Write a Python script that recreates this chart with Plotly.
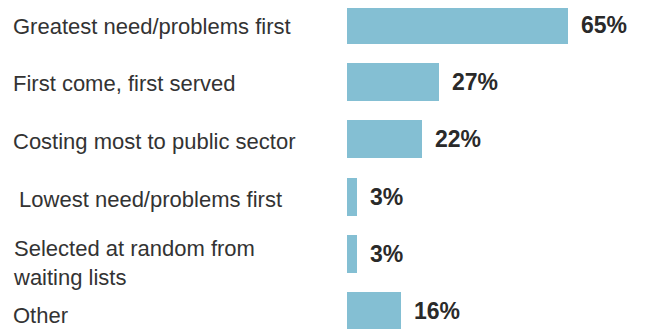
import plotly.graph_objects as go

categories = [
    "Greatest need/problems first",
    "First come, first served",
    "Costing most to public sector",
    " Lowest need/problems first",
    "Selected at random from<br>waiting lists",
    "Other",
]
values = [65, 27, 22, 3, 3, 16]

# the page has an 8px body margin, so the figure is drawn 8px smaller
OFF = 8
W, H = 645 - OFF, 329 - OFF
BAR_COLOR = "#84bfd3"
FONT = "Liberation Sans, Arial, sans-serif"
PX_PER_PCT = 3.4
ROW = 57.2
X0 = 347 - OFF

fig = go.Figure()
fig.add_trace(go.Bar(
    x=values,
    y=list(range(len(values))),
    orientation="h",
    width=0.665,
    marker=dict(color=BAR_COLOR, line=dict(width=0)),
    hoverinfo="skip",
    showlegend=False,
))

# value labels to the right of each bar
for i, v in enumerate(values):
    fig.add_annotation(
        x=v, y=i, xref="x", yref="y",
        text=f"<b>{v}%</b>", showarrow=False,
        xanchor="left", yanchor="middle", xshift=11, yshift=0,
        font=dict(family=FONT, size=23, color="#2a2a2a"),
    )

# category labels, left-aligned at the page edge (they drift a bit lower than the bars)
for i, c in enumerate(categories):
    shift = -1 - 0.7 * i
    if "<br>" in c:
        shift -= 5
    fig.add_annotation(
        x=(11 - OFF) / W, y=i, xref="paper", yref="y",
        text=c, showarrow=False, align="left",
        xanchor="left", yanchor="middle", yshift=shift,
        font=dict(family=FONT, size=22, color="#333333"),
    )

fig.update_layout(
    width=W, height=H,
    margin=dict(l=0, r=0, t=0, b=0),
    plot_bgcolor="white", paper_bgcolor="white",
    xaxis=dict(domain=[X0 / W, 1], range=[0, (W - X0) / PX_PER_PCT], visible=False, fixedrange=True),
    yaxis=dict(range=[5 + 18 / ROW, -(25 - OFF) / ROW], visible=False, fixedrange=True),
    bargap=0,
)

fig.write_html("out.html", config=dict(displayModeBar=False))
